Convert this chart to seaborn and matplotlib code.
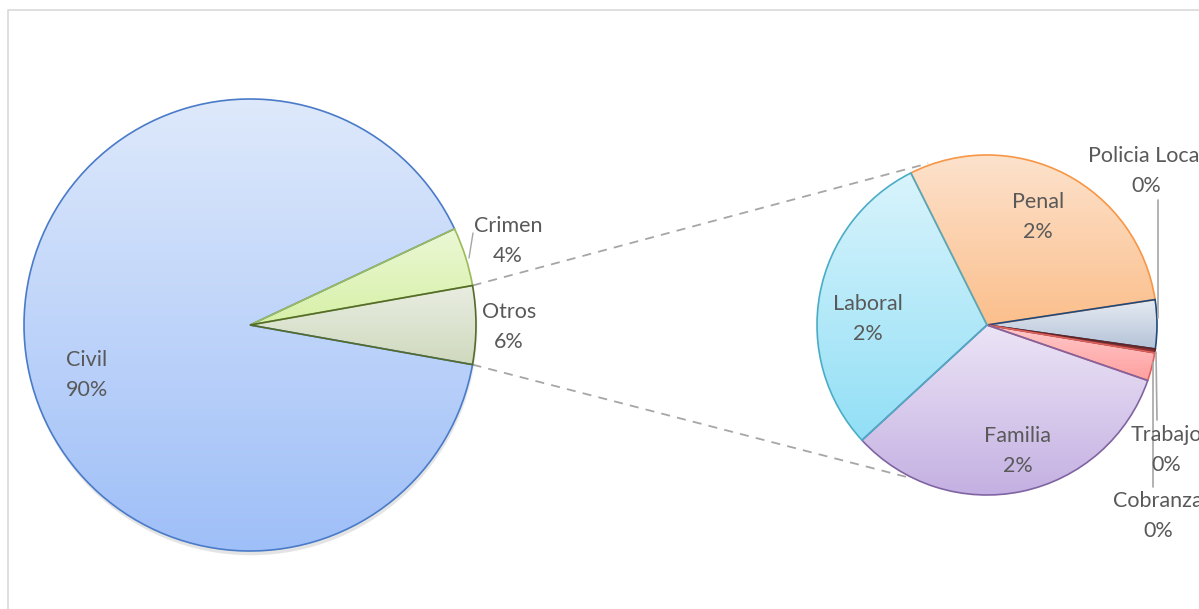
import numpy as np
import seaborn as sns
import matplotlib
matplotlib.use("Agg")
import matplotlib.pyplot as plt
from matplotlib.colors import LinearSegmentedColormap

# main pie (percent of total)
main_cats = ["Civil", "Crimen", "Otros"]
main_vals = [90.2, 4.2, 5.6]
main_top = ["#dee9fb", "#ecf8d6", "#e9ede2"]
main_bot = ["#9fbff8", "#d6f0a6", "#cfd9bd"]
main_edge = ["#4a7bc8", "#9bbb59", "#556b2a"]

# second pie: breakdown of "Otros" (percent of total)
sub_cats = ["Penal", "Policia Local", "Trabajo", "Cobranza", "Familia", "Laboral"]
sub_vals = [1.68, 0.26, 0.02, 0.15, 1.84, 1.65]
sub_top = ["#fde2cc", "#e6ebf2", "#9a3a38", "#ffcaca", "#ece4f6", "#d9f4fc"]
sub_bot = ["#fbbf8c", "#b4c3d8", "#8c2f2d", "#ffa0a0", "#c4b0e2", "#92dff6"]
sub_edge = ["#f79646", "#1f497d", "#632423", "#e0605c", "#8064a2", "#4bacc6"]

W, H = 1199, 609
sns.set_theme(style="white")
plt.rcParams["font.family"] = ["Lato", "DejaVu Sans"]
txt_color = "#595959"
fs = 15.5

fig = plt.figure(figsize=(W / 100, H / 100), dpi=100)
ax = fig.add_axes([0, 0, 1, 1])


def py(y):
    return H - y


def grad_pie(vals, center, radius, start, tops, bots, edges):
    wedges, _ = ax.pie(vals, center=center, radius=radius, startangle=start,
                       counterclock=False, frame=True,
                       wedgeprops=dict(facecolor="none", linewidth=1.2))
    for w, t, b, e in zip(wedges, tops, bots, edges):
        w.set_edgecolor(e)
        w.set_zorder(3)
        ext = w.get_path().get_extents()
        cmap = LinearSegmentedColormap.from_list("g", [b, t])
        grad = np.linspace(0, 1, 256).reshape(-1, 1)
        im = ax.imshow(grad, extent=[ext.x0, ext.x1, ext.y0, ext.y1],
                       origin="lower", cmap=cmap, aspect="auto", zorder=2,
                       interpolation="bilinear")
        im.set_clip_path(w)
    return wedges


lc, lr = (250, py(325)), 226
rc, rr = (987, py(325)), 170

# soft shadow under the main pie
for k in range(6):
    sh = plt.Circle((lc[0] + 1, lc[1] - 3 - k * 0.6), lr + 1 - k * 0.5,
                    color="#808080", alpha=0.035, lw=0, zorder=1)
    ax.add_patch(sh)

main_w = grad_pie(main_vals, lc, lr, 349.9, main_top, main_bot, main_edge)
sub_w = grad_pie(sub_vals, rc, rr, 116.6, sub_top, sub_bot, sub_edge)

# connector lines between the "Otros" slice and the second pie
otros = main_w[2]
for ang_l, ang_r in [(otros.theta2, 110), (otros.theta1, 242)]:
    x0 = lc[0] + lr * np.cos(np.radians(ang_l))
    y0 = lc[1] + lr * np.sin(np.radians(ang_l))
    x1 = rc[0] + (rr + 2) * np.cos(np.radians(ang_r))
    y1 = rc[1] + (rr + 2) * np.sin(np.radians(ang_r))
    ax.plot([x0, x1], [y0, y1], ls=(0, (5, 4)), color="#a6a6a6", lw=1.3, zorder=1)

# data labels
def lab(name, val, x, y):
    ax.text(x, py(y), f"{name}\n{val:.0f}%", ha="center", va="center",
            color=txt_color, fontsize=fs, linespacing=1.62, zorder=5)

lab_pos = {"Civil": (87, 375), "Crimen": (508, 241), "Otros": (509, 327),
           "Penal": (1038, 217), "Laboral": (868, 319), "Familia": (1018, 451),
           "Policia Local": (1146, 171), "Trabajo": (1166, 450),
           "Cobranza": (1158, 516)}
for n, v in zip(main_cats, main_vals):
    lab(n, v, *lab_pos[n])
for n, v in zip(sub_cats, sub_vals):
    lab(n, v, *lab_pos[n])

# leader lines
for xs, ys in [([1158, 1158], [200, 318]), ([1157, 1156], [420, 352]),
               ([1153, 1153], [487, 362])]:
    ax.plot(xs, [py(v) for v in ys], color="#a6a6a6", lw=1.2, zorder=4)
ax.plot([473, 469], [py(233), py(258)], color="#a6a6a6", lw=1.0, zorder=4)

# chart frame
ax.plot([8, 8, W + 5], [py(H + 5), py(10), py(10)], color="#d9d9d9", lw=1.2, zorder=6)

ax.set_xlim(0, W)
ax.set_ylim(0, H)
ax.set_aspect("auto")
ax.axis("off")
fig.savefig("out.png", dpi=100)
